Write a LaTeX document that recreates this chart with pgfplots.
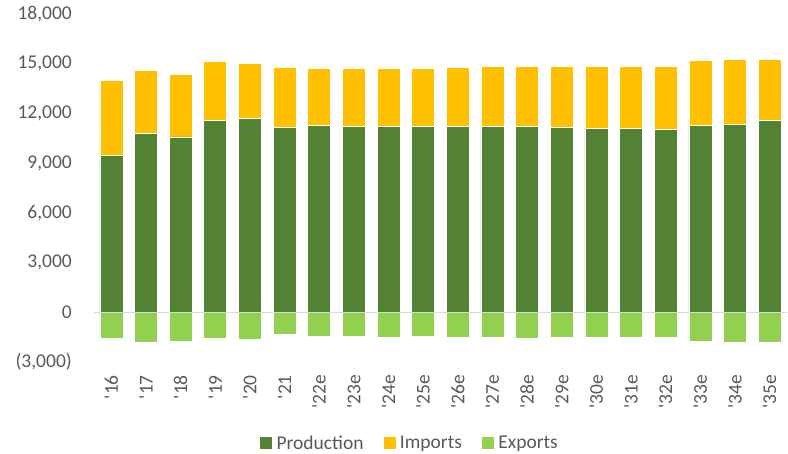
\documentclass[border=0pt]{standalone}
\usepackage{fontspec}
\setmainfont{Carlito}
\usepackage{pgfplots}
\usepackage{pgfplotstable}
\pgfplotsset{compat=1.18}
\definecolor{prod}{HTML}{548235}
\definecolor{imp}{HTML}{FFC000}
\definecolor{expc}{HTML}{92D050}
\definecolor{txt}{HTML}{595959}
\definecolor{zl}{HTML}{D9D9D9}
\newcommand{\q}{\textquotesingle}

\pgfplotstableread{
x prod imp exp
0 9480 4520 -1560
1 10780 3820 -1820
2 10580 3760 -1760
3 11560 3560 -1560
4 11680 3360 -1640
5 11160 3620 -1300
6 11280 3440 -1440
7 11220 3500 -1440
8 11220 3500 -1500
9 11220 3500 -1440
10 11220 3560 -1500
11 11220 3640 -1500
12 11220 3640 -1560
13 11160 3700 -1500
14 11100 3760 -1500
15 11100 3760 -1500
16 11040 3820 -1500
17 11300 3880 -1760
18 11360 3900 -1820
19 11560 3700 -1820
}\data

\pgfplotsset{common/.style={
  at={(0pt,0pt)}, anchor=south west, scale only axis,
  width=693pt, height=348pt,
  xmin=-0.5, xmax=19.5, ymin=-3000, ymax=18000,
  bar width=23pt, axis line style={draw=none}, tick style={draw=none},
  scaled y ticks=false,
}}

\begin{document}
\begin{tikzpicture}
\useasboundingbox (-94pt,-92pt) rectangle (694pt,362pt);
\begin{axis}[common, ybar stacked, bar shift=0pt,
  ytick={-3000,0,3000,6000,9000,12000,15000,18000},
  yticklabels={{(3,000)},0,{3,000},{6,000},{9,000},{12,000},{15,000},{18,000}},
  xtick={0,...,19},
  xticklabels={\q16,\q17,\q18,\q19,\q20,\q21,\q22e,\q23e,\q24e,\q25e,\q26e,\q27e,\q28e,\q29e,\q30e,\q31e,\q32e,\q33e,\q34e,\q35e},
  yticklabel style={font=\fontsize{19.5}{23}\selectfont, text=txt, anchor=east, inner sep=0pt, xshift=-22pt},
  xticklabel style={font=\fontsize{19.5}{23}\selectfont, text=txt, rotate=90, anchor=east, inner sep=0pt},
  xticklabel shift=13pt,
]
\addplot[fill=prod, draw=white, line width=0.6pt] table[x=x,y=prod]{\data};
\addplot[fill=imp, draw=white, line width=0.6pt] table[x=x,y=imp]{\data};
\end{axis}
\begin{axis}[common, ybar, bar shift=0pt, hide axis,
  legend columns=-1,
  legend style={at={(0.456,-0.233)}, anchor=center, draw=none, fill=none,
    font=\fontsize{19.5}{23}\selectfont, text=txt,
    /tikz/every odd column/.append style={column sep=3pt},
    /tikz/every even column/.append style={column sep=18pt}},
]
\addplot[fill=expc, draw=white, line width=0.6pt, bar shift=0pt, forget plot] table[x=x,y=exp]{\data};
\draw[zl, line width=1.5pt] (axis cs:-0.5,0) -- (axis cs:19.5,0);
\addlegendimage{legend image code/.code={\fill[prod] (0pt,-5.5pt) rectangle (11pt,5.5pt);}}
\addlegendentry{Production}
\addlegendimage{legend image code/.code={\fill[imp] (0pt,-5.5pt) rectangle (11pt,5.5pt);}}
\addlegendentry{Imports}
\addlegendimage{legend image code/.code={\fill[expc] (0pt,-5.5pt) rectangle (11pt,5.5pt);}}
\addlegendentry{Exports}
\end{axis}
\end{tikzpicture}
\end{document}
